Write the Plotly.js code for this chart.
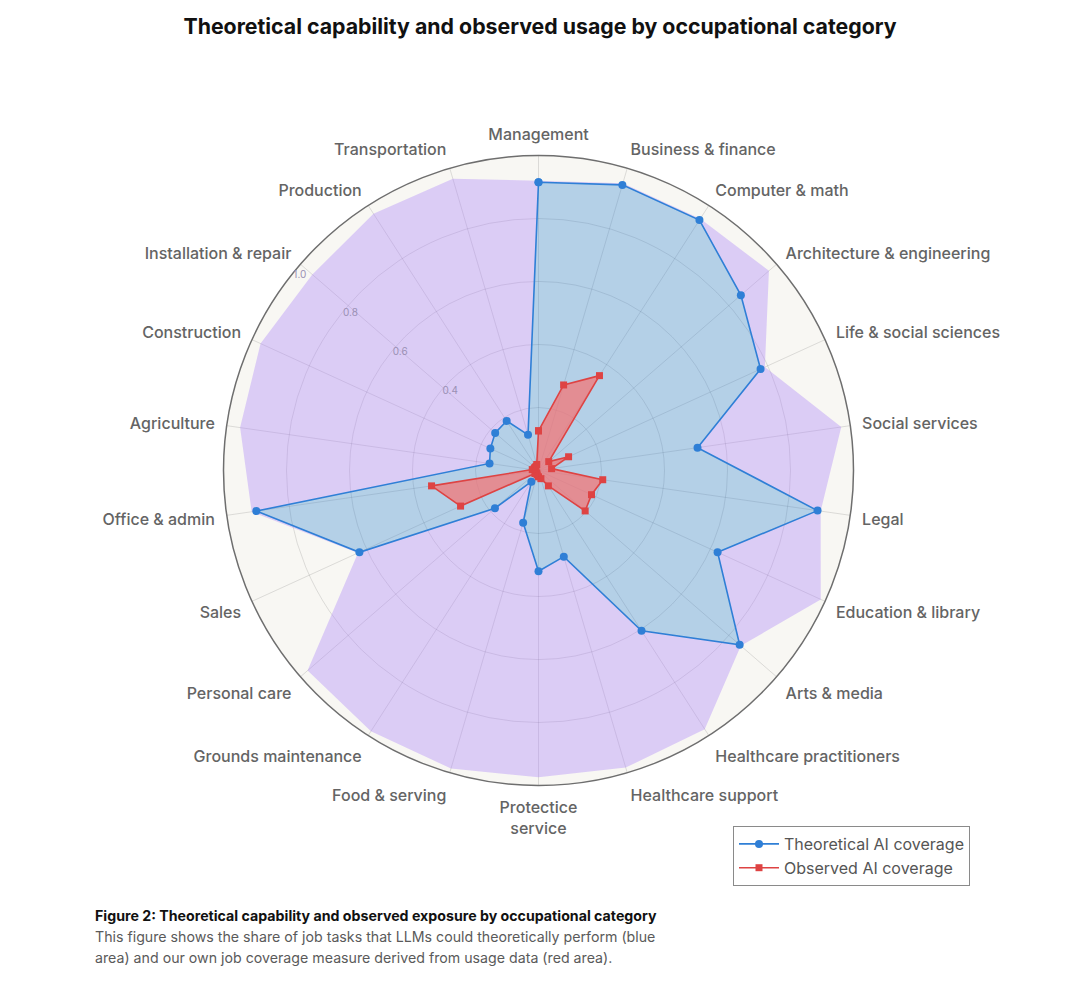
<!DOCTYPE html>
<html>
<head>
<meta charset="utf-8">
<script src="https://cdn.plot.ly/plotly-3.0.1.min.js"></script>
<style>
  html, body { margin: 0; padding: 0; background: #ffffff; }
  #chart { width: 1080px; height: 999px; }
</style>
</head>
<body>
<div id="chart"></div>
<script>
// Occupational categories, clockwise from the top
const categories = [
  "Management", "Business & finance", "Computer & math", "Architecture & engineering",
  "Life & social sciences", "Social services", "Legal", "Education & library",
  "Arts & media", "Healthcare practitioners", "Healthcare support", "Protectice service",
  "Food & serving", "Grounds maintenance", "Personal care", "Sales", "Office & admin",
  "Agriculture", "Construction", "Installation & repair", "Production", "Transportation"
];

// Axis label text (line break in the long bottom label)
const categoryLabels = [
  "Management", "Business & finance", "Computer & math", "Architecture & engineering",
  "Life & social sciences", "Social services", "Legal", "Education & library",
  "Arts & media", "Healthcare practitioners", "Healthcare support", "Protectice<br>service",
  "Food & serving", "Grounds maintenance", "Personal care", "Sales", "Office & admin",
  "Agriculture", "Construction", "Installation & repair", "Production", "Transportation"
];

// Share of tasks LLMs could theoretically perform
const theoreticalCoverage = [
  0.915, 0.945, 0.945, 0.85, 0.775, 0.51, 0.895, 0.625,
  0.845, 0.605, 0.285, 0.32, 0.173, 0.042, 0.183, 0.625, 0.905,
  0.157, 0.168, 0.182, 0.187, 0.118
];

// Outer envelope of the purple band
const coverageCeiling = [
  0.92, 0.95, 0.95, 0.968, 0.79, 0.971, 0.905, 0.985,
  0.85, 0.976, 0.983, 0.974, 0.986, 0.984, 0.97, 0.63, 0.92,
  0.957, 0.97, 0.95, 0.969, 0.965
];

// Job coverage measured from usage data
const observedCoverage = [
  0.126, 0.283, 0.358, 0.043, 0.105, 0.042, 0.206, 0.185,
  0.196, 0.058, 0.027, 0.02, 0.015, 0.01, 0.015, 0.272, 0.343,
  0.02, 0.015, 0.015, 0.015, 0.02
];

// Radial tick values and their labels (innermost ring left unlabeled)
const radialTicks = [0.2, 0.4, 0.6, 0.8, 1.0];
const radialTickLabels = ["", "0.4", "0.6", "0.8", "1.0"];

const closeLoop = arr => arr.concat([arr[0]]);
const theta = closeLoop(categories);

const FONT = "Inter, 'Open Sans', sans-serif";
const BLUE = "#2f7fd6";
const RED = "#de4343";
// radial labels sit on the Installation & repair spoke (139.1 deg); the axis is
// turned slightly so the side-offset labels land on that spoke
const RADIAL_ANGLE = 142.1;

const traces = [
  // filled areas
  {
    type: "scatterpolar",
    name: "Theoretical area",
    r: closeLoop(theoreticalCoverage),
    theta: theta,
    mode: "none",
    fill: "toself",
    fillcolor: "rgba(55,135,210,0.35)",
    showlegend: false,
    hoverinfo: "skip"
  },
  {
    type: "scatterpolar",
    name: "Upper band",
    r: closeLoop(coverageCeiling),
    theta: theta,
    mode: "none",
    fill: "tonext",
    fillcolor: "rgba(172,130,250,0.37)",
    showlegend: false,
    hoverinfo: "skip"
  },
  {
    type: "scatterpolar",
    name: "Theoretical AI coverage",
    r: closeLoop(theoreticalCoverage),
    theta: theta,
    mode: "lines+markers",
    line: { color: BLUE, width: 1.6 },
    marker: { symbol: "circle", size: 8, color: BLUE }
  },
  {
    type: "scatterpolar",
    name: "Observed area",
    r: closeLoop(observedCoverage),
    theta: theta,
    mode: "none",
    fill: "toself",
    fillcolor: "rgba(245,115,115,0.72)",
    showlegend: false,
    hoverinfo: "skip"
  },
  {
    type: "scatterpolar",
    name: "Observed AI coverage",
    r: closeLoop(observedCoverage),
    theta: theta,
    mode: "lines+markers",
    line: { color: RED, width: 1.6 },
    marker: { symbol: "square", size: 7, color: RED }
  }
];

const W = 1080, H = 999;
const cx = 538.5, cy = 470.5, R = 315;

const layout = {
  width: W,
  height: H,
  margin: { l: 0, r: 0, t: 0, b: 0 },
  paper_bgcolor: "#ffffff",
  font: { family: FONT, color: "#666666" },
  title: {
    text: "<b>Theoretical capability and observed usage by occupational category</b>",
    font: { family: FONT, size: 21.3, color: "#111111" },
    x: 0.5, xanchor: "center",
    y: 1 - 27 / H, yanchor: "middle", yref: "container"
  },
  polar: {
    domain: {
      x: [(cx - R) / W, (cx + R) / W],
      y: [(H - cy - R) / H, (H - cy + R) / H]
    },
    bgcolor: "#f8f7f3",
    angularaxis: {
      type: "category",
      categoryorder: "array",
      categoryarray: categories,
      tickmode: "array",
      tickvals: categories,
      ticktext: categoryLabels,
      rotation: 90,
      direction: "clockwise",
      showline: true,
      linecolor: "#6e6e6e",
      linewidth: 1.5,
      gridcolor: "rgba(90,90,90,0.18)",
      gridwidth: 1,
      ticks: "outside",
      ticklen: 8,
      tickcolor: "rgba(0,0,0,0)",
      tickfont: { family: FONT, size: 16, weight: 500, color: "#646464" }
    },
    radialaxis: {
      range: [0, 1],
      angle: RADIAL_ANGLE,
      tickangle: RADIAL_ANGLE,
      tickmode: "array",
      tickvals: radialTicks,
      ticktext: radialTickLabels,
      showline: false,
      ticks: "",
      gridcolor: "rgba(90,90,90,0.18)",
      gridwidth: 1,
      tickfont: { family: FONT, size: 10, color: "#9a90b4" }
    }
  },
  showlegend: true,
  legend: {
    x: 733 / W, xanchor: "left",
    y: 1 - 826 / H, yanchor: "top",
    bgcolor: "#ffffff",
    bordercolor: "#8a8a8a",
    borderwidth: 1,
    itemwidth: 40,
    font: { family: FONT, size: 16, color: "#555555" },
    traceorder: "normal"
  },
  annotations: [
    {
      text: "<b>Figure 2: Theoretical capability and observed exposure by occupational category</b>",
      xref: "paper", yref: "paper",
      x: 93 / W, xanchor: "left",
      y: 1 - 915 / H, yanchor: "middle",
      showarrow: false,
      font: { family: FONT, size: 14.2, color: "#111111" }
    },
    {
      text: "This figure shows the share of job tasks that LLMs could theoretically perform (blue",
      xref: "paper", yref: "paper",
      x: 93 / W, xanchor: "left",
      y: 1 - 937 / H, yanchor: "middle",
      showarrow: false,
      font: { family: FONT, size: 14.2, color: "#5a5a5a" }
    },
    {
      text: "area) and our own job coverage measure derived from usage data (red area).",
      xref: "paper", yref: "paper",
      x: 93 / W, xanchor: "left",
      y: 1 - 958 / H, yanchor: "middle",
      showarrow: false,
      font: { family: FONT, size: 14.2, color: "#5a5a5a" }
    }
  ]
};

Plotly.newPlot("chart", traces, layout, { displayModeBar: false, staticPlot: true });
</script>
</body>
</html>
